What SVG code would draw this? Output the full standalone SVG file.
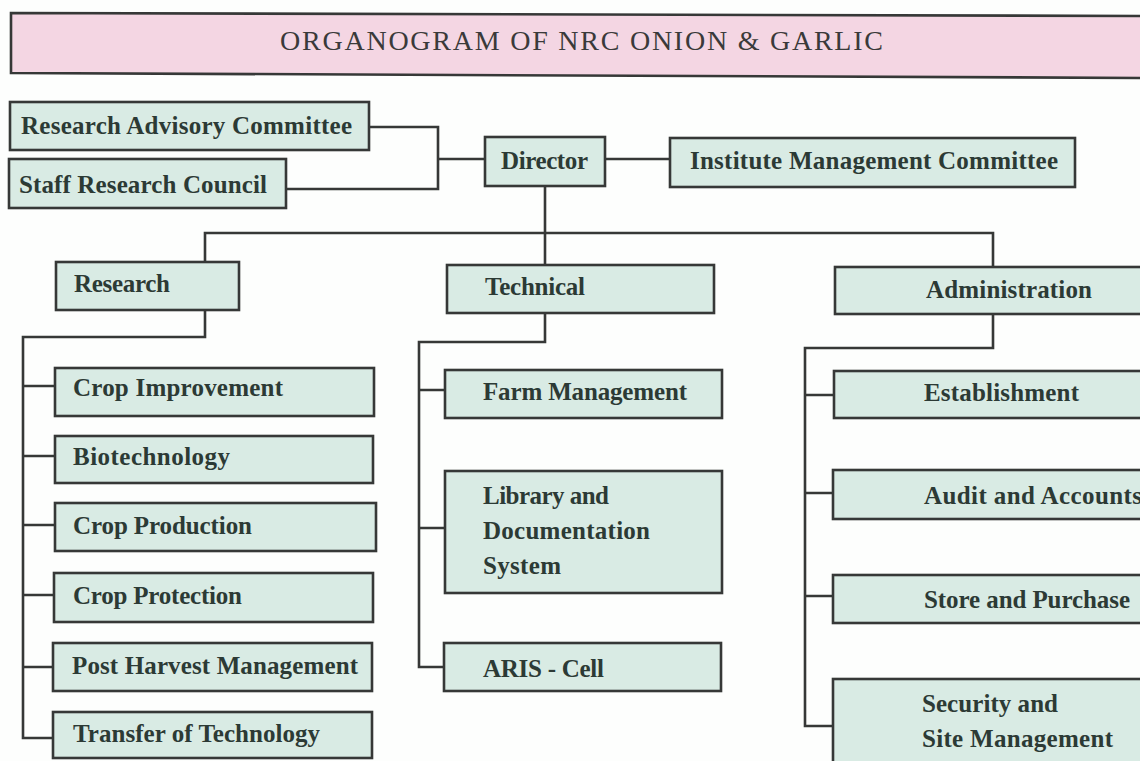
<svg xmlns="http://www.w3.org/2000/svg" width="1140" height="761" viewBox="0 0 1140 761">
<style>
.bg{fill:#fdfefd}
.box{fill:#d9ebe4;stroke:#363837;stroke-width:2.6}
.ttl{fill:#f4d6e3;stroke:#363837;stroke-width:2.6}
.t{font-family:"Liberation Serif","Times New Roman",serif;font-weight:bold;font-size:25px;fill:#2c3a35}
.tt{font-family:"Liberation Serif","Times New Roman",serif;font-size:28px;fill:#3a3a3a}
.c{fill:none;stroke:#363837;stroke-width:2.6}
</style>
<rect class="bg" x="0" y="0" width="1140" height="761"/>
<g id="title">
<polygon class="ttl" points="11,13 1150,16 1150,78 11,73"/>
<text class="tt" x="280" y="50" textLength="603">ORGANOGRAM OF NRC ONION &amp; GARLIC</text>
</g>
<g id="connectors">
<path class="c" d="M369,127 H438 V189 H286"/>
<path class="c" d="M438,159 H485"/>
<path class="c" d="M605,159 H670"/>
<path class="c" d="M545,186 V265"/>
<path class="c" d="M205,262 V233 H993 V267"/>
<path class="c" d="M205,310 V337 H23 V738 H53"/>
<path class="c" d="M23,386 H55 M23,456 H55 M23,525 H55 M23,595 H54 M23,667 H53"/>
<path class="c" d="M545,313 V342 H419 V667 H444"/>
<path class="c" d="M419,390 H445 M419,528 H445"/>
<path class="c" d="M993,314 V348 H805 V726 H833"/>
<path class="c" d="M805,395 H834 M805,493 H833 M805,596 H833"/>
</g>
<g id="rac"><rect class="box" x="10" y="102" width="359" height="48"/><text class="t" x="21" y="134" textLength="331">Research Advisory Committee</text></g>
<g id="src"><rect class="box" x="9" y="159" width="277" height="49"/><text class="t" x="19" y="193" textLength="248">Staff Research Council</text></g>
<g id="director"><rect class="box" x="485" y="137" width="120" height="49"/><text class="t" x="501" y="169" textLength="87">Director</text></g>
<g id="imc"><rect class="box" x="670" y="138" width="405" height="49"/><text class="t" x="690" y="169" textLength="368">Institute Management Committee</text></g>
<g id="research"><rect class="box" x="56" y="262" width="183" height="48"/><text class="t" x="74" y="292" textLength="96">Research</text></g>
<g id="technical"><rect class="box" x="447" y="265" width="267" height="48"/><text class="t" x="485" y="295" textLength="100">Technical</text></g>
<g id="administration"><rect class="box" x="835" y="267" width="330" height="47"/><text class="t" x="926" y="298" textLength="166">Administration</text></g>
<g id="crop-improvement"><rect class="box" x="55" y="368" width="319" height="48"/><text class="t" x="73" y="396" textLength="210">Crop Improvement</text></g>
<g id="biotechnology"><rect class="box" x="55" y="436" width="318" height="47"/><text class="t" x="73" y="465" textLength="157">Biotechnology</text></g>
<g id="crop-production"><rect class="box" x="55" y="503" width="321" height="48"/><text class="t" x="73" y="534" textLength="179">Crop Production</text></g>
<g id="crop-protection"><rect class="box" x="54" y="573" width="319" height="49"/><text class="t" x="73" y="604" textLength="169">Crop Protection</text></g>
<g id="post-harvest"><rect class="box" x="53" y="643" width="319" height="48"/><text class="t" x="72" y="674" textLength="286">Post Harvest Management</text></g>
<g id="transfer"><rect class="box" x="53" y="712" width="319" height="46"/><text class="t" x="73" y="742" textLength="247">Transfer of Technology</text></g>
<g id="farm"><rect class="box" x="445" y="370" width="277" height="48"/><text class="t" x="483" y="400" textLength="204">Farm Management</text></g>
<g id="library"><rect class="box" x="445" y="471" width="277" height="122"/><text class="t" x="483" y="504" textLength="126">Library and</text><text class="t" x="483" y="539" textLength="167">Documentation</text><text class="t" x="483" y="574" textLength="78">System</text></g>
<g id="aris"><rect class="box" x="444" y="643" width="277" height="48"/><text class="t" x="483" y="677" textLength="121">ARIS - Cell</text></g>
<g id="establishment"><rect class="box" x="834" y="371" width="330" height="47"/><text class="t" x="924" y="401" textLength="155">Establishment</text></g>
<g id="audit"><rect class="box" x="833" y="470" width="330" height="49"/><text class="t" x="924" y="504" textLength="218">Audit and Accounts</text></g>
<g id="store"><rect class="box" x="833" y="575" width="330" height="48"/><text class="t" x="924" y="608" textLength="206">Store and Purchase</text></g>
<g id="security"><rect class="box" x="833" y="679" width="330" height="100"/><text class="t" x="922" y="712" textLength="136">Security and</text><text class="t" x="922" y="747" textLength="191">Site Management</text></g>
</svg>
